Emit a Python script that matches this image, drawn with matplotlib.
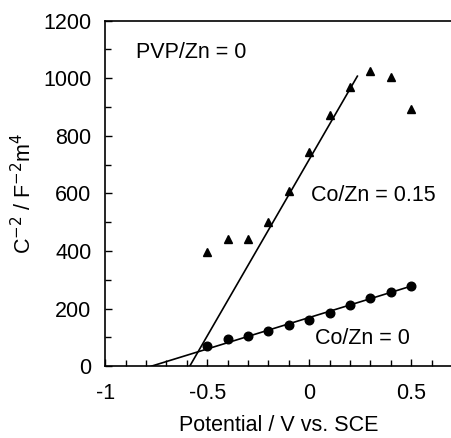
import numpy as np
import matplotlib.pyplot as plt
from matplotlib.ticker import MultipleLocator

plt.rcParams['font.family'] = ['Liberation Sans', 'DejaVu Sans']

potential = [-0.5, -0.4, -0.3, -0.2, -0.1, 0.0, 0.1, 0.2, 0.3, 0.4, 0.5]
co0 = [70, 93, 104, 122, 142, 162, 185, 211, 235, 259, 278]
co015 = [397, 440, 443, 501, 609, 745, 872, 970, 1025, 1003, 892]

# fitted straight lines (end points)
fit0_x = [-0.774, 0.5]
fit0_y = [0, 278]
fit015_x = [-0.586, 0.236]
fit015_y = [0, 1007]

fig = plt.figure(figsize=[4.52, 4.38], dpi=100)
ax = fig.add_axes([0.233, 0.164, 0.767, 0.789])

ax.plot(fit0_x, fit0_y, color='black', lw=1.2)
ax.plot(fit015_x, fit015_y, color='black', lw=1.2)
ax.plot(potential, co0, 'o', color='black', ms=6.2)
ax.plot(potential, co015, '^', color='black', ms=6)

ax.text(-0.85, 1088, 'PVP/Zn = 0', fontsize=15.5, va='center')
ax.text(0.01, 594, 'Co/Zn = 0.15', fontsize=15.5, va='center')
ax.text(0.03, 97, 'Co/Zn = 0', fontsize=15.5, va='center')

ax.set_xlim(-1, 0.7)
ax.set_ylim(0, 1200)
ax.xaxis.set_minor_locator(MultipleLocator(0.1))
ax.yaxis.set_major_locator(MultipleLocator(200))
ax.yaxis.set_minor_locator(MultipleLocator(100))
ax.set_xticks([-1, -0.5, 0, 0.5])
ax.set_xticklabels(['-1', '-0.5', '0', '0.5'])
ax.tick_params(which='both', direction='in', labelsize=15.5, top=False, right=False)
ax.tick_params(which='major', length=5, width=1)
ax.tick_params(which='minor', length=4, width=1)
ax.tick_params(axis='x', pad=12)
ax.tick_params(axis='y', pad=10)
for s in ax.spines.values():
    s.set_linewidth(1.2)

ax.set_xlabel('Potential / V vs. SCE', fontsize=15.5, labelpad=8)
ax.set_ylabel('C$^{-2}$ / F$^{-2}$m$^{4}$', fontsize=15.5, labelpad=5)

plt.savefig('out.png', dpi=100)
